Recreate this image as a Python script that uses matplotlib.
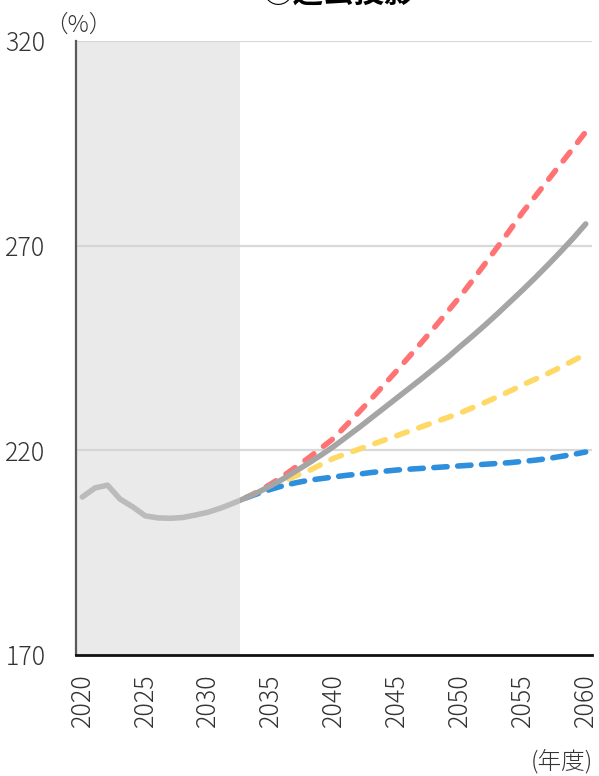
import matplotlib
matplotlib.use("Agg")
import matplotlib.pyplot as plt
from matplotlib.patches import Rectangle

plt.rcParams['font.family'] = ['Noto Sans CJK JP', 'DejaVu Sans']

# 実績・過去投影（2020〜2060年度）
years = list(range(2020, 2061))
base = [208.6, 210.8, 211.5, 208.1, 206.2, 204.0, 203.5, 203.4, 203.6, 204.2,
        204.9, 205.9, 207.1, 208.4, 209.8, 211.4, 213.1, 215.0, 216.9, 218.9,
        221.0, 223.3, 225.6, 228.0, 230.4, 232.8, 235.2, 237.6, 240.1, 242.6,
        245.3, 247.9, 250.6, 253.4, 256.3, 259.2, 262.2, 265.3, 268.5, 271.8,
        275.3]

# 2033年度以降のシナリオ
proj_years = list(range(2033, 2061))
high = [208.4, 210.0, 211.8, 213.8, 216.0, 218.2, 220.6, 223.0, 226.2, 229.4,
        232.7, 236.1, 239.5, 243.0, 246.5, 250.1, 253.8, 257.5, 261.5, 265.6,
        269.7, 273.9, 278.2, 282.1, 286.0, 289.9, 293.8, 297.8]
mid = [208.4, 209.8, 211.2, 212.5, 213.8, 215.0, 216.6, 218.1, 219.2, 220.3,
       221.4, 222.5, 223.6, 224.7, 225.8, 226.9, 228.0, 229.1, 230.4, 231.7,
       233.1, 234.5, 236.0, 237.4, 238.8, 240.3, 241.9, 243.5]
low = [208.4, 209.5, 210.5, 211.4, 212.1, 212.7, 213.1, 213.5, 213.9, 214.2,
       214.6, 214.9, 215.2, 215.4, 215.6, 215.8, 216.0, 216.2, 216.4, 216.6,
       216.8, 217.0, 217.3, 217.6, 218.0, 218.5, 219.0, 219.6]

yticks = [170, 220, 270, 320]
xticks = list(range(2020, 2061, 5))
shade_start, shade_end = 2019.5, 2032.5

fig = plt.figure(figsize=(5.99, 7.76), dpi=100)
ax = fig.add_axes([0.1269, 0.1559, 0.8614, 0.7913])

ax.set_xlim(2019.5, 2060.5)
ax.set_ylim(170, 320)

for y in yticks[1:]:
    ax.axhline(y, color='#d9d9d9', linewidth=1.6, zorder=1)

dash_kw = dict(linewidth=4.0, dash_capstyle='round', zorder=3)
ax.plot(proj_years, high, color='#ff7375', dashes=(2.0, 2.2), **dash_kw)
ax.plot(proj_years, mid, color='#ffd966', dashes=(2.0, 2.2), **dash_kw)
ax.plot(proj_years, low, color='#2e8fdd', dashes=(2.4, 1.9), **dash_kw)
ax.plot(years, base, color='#a5a5a5', linewidth=4.0,
        solid_capstyle='round', zorder=4)

# 実績期間の網掛け（線の上に半透明で重ねる）
ax.add_patch(Rectangle((shade_start, 170), shade_end - shade_start, 150,
                       facecolor='#d4d4d4', alpha=0.47, edgecolor='none',
                       zorder=5))

tick_font = dict(fontsize=18, color='#333333', fontweight='light')
ax.set_yticks(yticks)
ax.set_yticklabels([str(v) for v in yticks], **tick_font)
ax.set_xticks(xticks)
ax.set_xticklabels([str(v) for v in xticks], rotation=90, **tick_font)
ax.tick_params(axis='y', length=0, pad=22)
ax.tick_params(axis='x', length=0, pad=13)

for s in ['top', 'right']:
    ax.spines[s].set_visible(False)
ax.spines['left'].set_color('#595959')
ax.spines['left'].set_linewidth(1.6)
ax.spines['left'].set_zorder(6)
ax.spines['bottom'].set_color('#111111')
ax.spines['bottom'].set_linewidth(2.0)
ax.spines['bottom'].set_zorder(6)

fig.text(0.13, 0.967, '（%）', fontsize=17, ha='center', va='center',
         color='#333333', fontweight='light')
fig.text(0.938, 0.018, '(年度)', fontsize=17, ha='center', va='center',
         color='#333333', fontweight='light')
fig.text(0.565, 1 - 9 / 776, '①過去投影', fontsize=22, fontweight='bold',
         ha='center', va='bottom')

fig.savefig('out.png', dpi=100)
